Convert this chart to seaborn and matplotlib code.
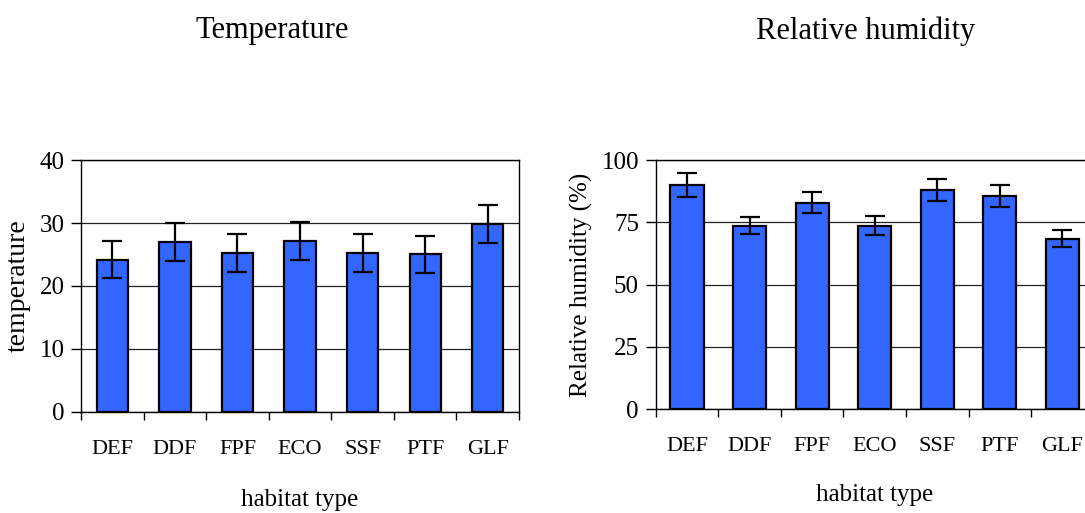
import numpy as np
import pandas as pd
import matplotlib
matplotlib.use("Agg")
import matplotlib.pyplot as plt
import seaborn as sns
from matplotlib.ticker import FixedLocator

# habitat categories
habitats = ["DEF", "DDF", "FPF", "ECO", "SSF", "PTF", "GLF"]

# temperature means and error
temp_mean = [24.2, 27.0, 25.3, 27.1, 25.3, 25.0, 29.9]
temp_err = [3.0, 3.0, 3.0, 3.0, 3.0, 3.0, 3.0]

# relative humidity (%) means and error
rh_mean = [89.8, 73.6, 82.9, 73.6, 88.0, 85.5, 68.4]
rh_err = [4.8, 3.5, 4.3, 3.9, 4.4, 4.5, 3.5]

temp_ticks = [0, 10, 20, 30, 40]
rh_ticks = [0, 25, 50, 75, 100]

sns.set_style("white")
plt.rcParams["font.family"] = ["Liberation Serif", "DejaVu Serif"]
plt.rcParams["text.color"] = "black"
plt.rcParams["axes.labelcolor"] = "black"

bar_color = "#3366FF"

fig = plt.figure(figsize=(10.85, 5.13), dpi=100)
ax1 = fig.add_axes([0.0747, 0.1969, 0.4037, 0.4912])
ax2 = fig.add_axes([0.6043, 0.2027, 0.4037, 0.4854])


def draw_panel(ax, means, errs, ticks, ylabel, width, xlab_pad, ylab_size):
    df = pd.DataFrame({"habitat": habitats, "value": means})
    sns.barplot(data=df, x="habitat", y="value", color=bar_color, saturation=1,
                width=width, edgecolor="black", linewidth=1.6, errorbar=None,
                zorder=3, ax=ax)
    ax.errorbar(np.arange(len(habitats)), means, yerr=errs, fmt="none",
                ecolor="black", elinewidth=1.6, capsize=7, capthick=1.6, zorder=4)
    ax.set_ylim(ticks[0], ticks[-1])
    ax.set_xlim(-0.5, len(habitats) - 0.5)
    ax.set_yticks(ticks)
    ax.yaxis.grid(True, color="#222222", linewidth=0.9, zorder=0)
    ax.set_axisbelow(True)
    for s in ax.spines.values():
        s.set_visible(True)
        s.set_color("black")
        s.set_linewidth(1.0)
    ax.tick_params(axis="y", direction="out", length=7, width=1.0, pad=5,
                   labelsize=18, left=True, colors="black")
    # category separators as minor ticks, labels centred on bars
    ax.xaxis.set_minor_locator(FixedLocator(np.arange(-0.5, len(habitats), 1.0)))
    ax.tick_params(axis="x", which="minor", direction="out", length=6, width=1.0,
                   bottom=True, colors="black")
    ax.tick_params(axis="x", which="major", length=0, pad=20, labelsize=16,
                   labelcolor="black")
    ax.set_xlabel("habitat type", fontsize=18, labelpad=xlab_pad)
    ax.set_ylabel(ylabel, fontsize=ylab_size, labelpad=6)


draw_panel(ax1, temp_mean, temp_err, temp_ticks, "temperature", 0.5, 22, 20)
draw_panel(ax2, rh_mean, rh_err, rh_ticks, "Relative humidity (%)", 0.53, 20, 18)

fig.text(272 / 1085, 1 - 31 / 513, "Temperature", fontsize=22, ha="center", va="center")
fig.text(866 / 1085, 1 - 31 / 513, "Relative humidity", fontsize=22, ha="center", va="center")

fig.savefig("out.png", dpi=100)
